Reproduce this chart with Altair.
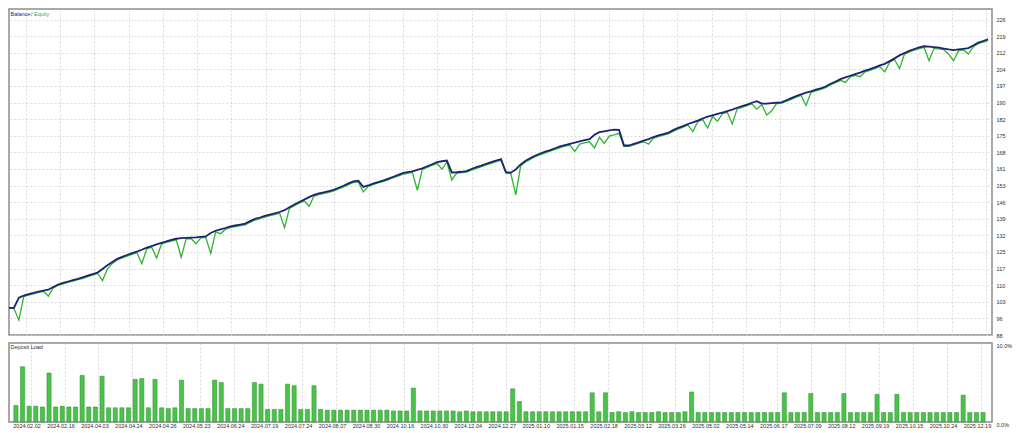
import altair as alt
import pandas as pd

# ---------------- data ----------------
balance = [
    99.9, 99.9, 104.3, 105.2, 105.9, 106.4, 107.0, 107.4, 107.8, 109.0,
    110.1, 110.8, 111.4, 112.0, 112.6, 113.2, 114.0, 114.6, 115.3, 116.9,
    118.5, 119.9, 121.3, 122.2, 123.0, 123.8, 124.5, 125.3, 126.2, 126.9,
    127.6, 128.3, 129.0, 129.6, 130.1, 130.4, 130.5, 130.6, 130.7, 130.9,
    131.1, 132.6, 133.6, 134.2, 134.8, 135.5, 135.9, 136.3, 136.7, 137.8,
    138.8, 139.4, 140.1, 140.7, 141.2, 141.8, 142.6, 143.9, 145.1, 146.2,
    147.2, 148.3, 149.3, 149.9, 150.4, 150.9, 151.5, 152.4, 153.3, 154.3,
    155.2, 155.5, 152.8, 153.4, 154.2, 154.9, 155.5, 156.3, 157.1, 157.9,
    158.8, 159.2, 159.6, 160.2, 160.9, 161.8, 162.7, 163.6, 164.0, 164.3,
    159.1, 159.2, 159.4, 159.7, 160.6, 161.4, 162.1, 162.9, 163.6, 164.3,
    164.9, 159.2, 159.0, 160.4, 162.6, 164.2, 165.4, 166.5, 167.4, 168.2,
    168.9, 169.7, 170.5, 171.1, 171.6, 172.1, 172.7, 173.2, 173.7, 175.6,
    176.7, 177.1, 177.5, 177.8, 177.7, 170.9, 170.9, 171.6, 172.3, 173.0,
    173.7, 174.6, 175.3, 175.9, 176.5, 177.6, 178.6, 179.4, 180.3, 181.0,
    181.8, 182.7, 183.5, 184.1, 184.7, 185.3, 185.9, 186.6, 187.4, 188.1,
    188.8, 189.6, 190.3, 189.2, 189.2, 189.4, 189.6, 189.8, 190.7, 191.6,
    192.5, 193.3, 194.0, 194.6, 195.3, 195.9, 196.7, 197.9, 198.9, 199.9,
    200.7, 201.4, 202.1, 202.8, 203.6, 204.3, 205.1, 205.9, 206.6, 207.8,
    209.0, 210.3, 211.3, 212.3, 213.1, 213.8, 214.3, 214.1, 213.9, 213.7,
    213.3, 212.9, 212.6, 212.9, 213.2, 213.5, 214.6, 215.9, 216.6, 217.3,
]

equity = [
    99.9, 99.7, 94.5, 104.8, 105.5, 106.0, 106.6, 107.1, 105.0, 108.6,
    109.7, 110.4, 111.0, 111.6, 112.2, 112.8, 113.5, 114.2, 114.9, 111.8,
    116.8, 119.3, 120.8, 121.7, 122.5, 123.3, 124.0, 119.2, 125.7, 126.4,
    121.7, 127.8, 128.5, 129.1, 129.6, 122.0, 130.1, 130.2, 127.9, 130.5,
    130.7, 123.7, 133.1, 132.3, 134.3, 135.0, 135.4, 135.8, 136.2, 137.3,
    138.3, 138.9, 139.6, 140.2, 140.7, 141.3, 134.9, 143.4, 144.6, 145.7,
    146.7, 144.3, 148.8, 149.4, 149.9, 150.4, 151.0, 151.9, 152.8, 153.8,
    154.7, 155.0, 150.6, 153.0, 153.8, 154.5, 155.1, 155.9, 156.7, 157.5,
    158.3, 158.7, 159.1, 151.3, 160.4, 161.3, 162.2, 163.1, 160.5, 163.8,
    155.8, 158.8, 159.0, 159.3, 160.1, 160.9, 161.6, 162.4, 163.1, 163.8,
    164.4, 158.8, 158.6, 149.3, 162.0, 163.7, 164.9, 166.0, 166.9, 167.7,
    168.4, 169.2, 170.0, 170.6, 171.1, 168.3, 171.5, 172.0, 172.5, 169.8,
    174.5, 171.8, 175.0, 175.5, 176.2, 170.5, 170.5, 171.2, 171.9, 172.6,
    171.5, 174.1, 174.8, 175.4, 176.0, 177.1, 178.1, 178.9, 179.8, 177.0,
    181.3, 182.2, 178.5, 183.6, 181.5, 184.8, 185.4, 180.3, 186.9, 187.6,
    188.3, 189.1, 186.8, 188.8, 184.2, 186.0, 189.2, 189.4, 190.2, 191.1,
    192.0, 192.8, 188.4, 194.1, 194.8, 195.4, 196.2, 197.4, 198.4, 199.4,
    198.5, 200.9, 201.6, 201.0, 203.1, 203.8, 204.6, 205.4, 203.1, 207.3,
    208.5, 204.5, 210.8, 211.8, 212.6, 213.3, 213.8, 208.0, 213.4, 213.2,
    212.8, 210.8, 208.0, 212.4, 212.7, 210.9, 214.1, 215.4, 216.1, 216.9,
]

deposit_load = (
    [2.1, 7.0, 2.0, 2.0, 1.9, 6.2, 1.9, 2.0, 1.9, 1.9,
     5.9, 1.9, 1.9, 5.8, 1.8, 1.8, 1.8, 1.8, 5.4, 5.5,
     1.8, 5.4, 1.8, 1.7, 1.8, 5.3, 1.7, 1.7, 1.7, 1.7,
     5.3, 5.0, 1.7, 1.7, 1.7, 1.7, 5.0, 4.8, 1.6, 1.6,
     1.6, 4.8, 4.6, 1.6, 1.6, 4.6, 1.6]
    + [1.5, 1.5, 1.5, 1.5, 1.5, 1.5, 1.5, 1.5, 1.5, 1.5, 1.4, 1.4, 1.4]
    + [4.3]
    + [1.4, 1.4, 1.4, 1.4, 1.4, 1.4, 1.3, 1.4, 1.3, 1.3, 1.3, 1.3, 1.3]
    + [1.3, 4.2, 2.6]
    + [1.3, 1.3, 1.3, 1.3, 1.3, 1.3, 1.3, 1.3, 1.3, 1.3]
    + [3.7, 1.3, 3.7]
    + [1.2, 1.3, 1.2, 1.3, 1.2, 1.2, 1.2, 1.3, 1.2, 1.2, 1.2, 1.3]
    + [3.8]
    + [1.2, 1.2, 1.2, 1.2, 1.2, 1.2, 1.2, 1.2, 1.2, 1.2, 1.2, 1.2, 1.2]
    + [3.7, 1.2, 1.2, 1.2, 3.6, 1.2, 1.2, 1.2, 1.2, 3.6]
    + [1.2, 1.2, 1.2, 1.2, 3.5, 1.2, 1.2, 3.5]
    + [1.2, 1.2, 1.2, 1.2, 1.2, 1.2, 1.2, 1.2, 1.2, 3.4, 1.2, 1.2, 1.2]
)

date_labels = [
    "2024.02.02", "2024.02.16", "2024.04.03", "2024.04.24", "2024.04.26",
    "2024.05.23", "2024.06.24", "2024.07.19", "2024.07.24", "2024.08.07",
    "2024.08.30", "2024.10.16", "2024.10.30", "2024.12.04", "2024.12.27",
    "2025.01.10", "2025.01.15", "2025.02.18", "2025.03.12", "2025.03.26",
    "2025.05.02", "2025.05.14", "2025.06.17", "2025.07.09", "2025.08.12",
    "2025.09.19", "2025.10.15", "2025.10.24", "2025.12.19",
]

y_labels = ["88", "96", "103", "110", "117", "125", "132", "139", "146", "153",
            "161", "168", "175", "182", "190", "197", "204", "212", "219", "226"]

# ---------------- tables ----------------
df_curve = pd.DataFrame({"i": list(range(len(balance))), "balance": balance, "equity": equity})
df_load = pd.DataFrame({"k": list(range(len(deposit_load))), "load": deposit_load})

# ---------------- layout ----------------
W = 983
H_TOP = 326
H_BOT = 79
FONT = "Liberation Sans"
FS = 5.5

X_TOP_DOM = [0, 199.8]
X_BOT_DOM = [-0.29, 146.6]
Y_TOP_DOM = [88, 230.6]

frac = [(17 + 34.85 * j) / 999 for j in range(len(date_labels))]
top_x_vals = [round(X_TOP_DOM[0] + f * (X_TOP_DOM[1] - X_TOP_DOM[0]), 4) for f in frac]
bot_x_vals = [round(X_BOT_DOM[0] + f * (X_BOT_DOM[1] - X_BOT_DOM[0]), 4) for f in frac]

y_step = (226 - 88) / (len(y_labels) - 1)
y_vals = [round(88 + j * y_step, 4) for j in range(len(y_labels))]

y_label_expr = f"{y_labels}[indexof({y_vals}, datum.value)]"
x_label_expr = f"{date_labels}[indexof({bot_x_vals}, datum.value)]"

x_top = alt.X(
    "i:Q",
    scale=alt.Scale(domain=X_TOP_DOM, nice=False, zero=False),
    axis=alt.Axis(values=top_x_vals, labels=False, ticks=False, domain=False,
                  grid=True, title=None),
)


def y_top(field):
    return alt.Y(
        f"{field}:Q",
        scale=alt.Scale(domain=Y_TOP_DOM, nice=False, zero=False),
        axis=alt.Axis(orient="right", values=y_vals, labelExpr=y_label_expr,
                      grid=True, ticks=False, domain=False, title=None,
                      labelFontSize=FS, labelPadding=4, labelOverlap=False),
    )


base = alt.Chart(df_curve)
eq_line = base.mark_line(color="#2fb52f", strokeWidth=1.3, clip=True).encode(
    x=x_top, y=y_top("equity"))
bal_line = base.mark_line(color="#1b2470", strokeWidth=1.8, clip=True).encode(
    x=x_top, y=y_top("balance"))


def label(text, x, y, color):
    return alt.Chart(pd.DataFrame({"t": [text]})).mark_text(
        align="left", baseline="middle", font=FONT, fontSize=FS, color=color
    ).encode(x=alt.value(x), y=alt.value(y), text="t:N")


top = alt.layer(
    eq_line, bal_line,
    label("Balance", 1.5, 5, "#1a1a8c"),
    label("/", 22, 5, "#404060"),
    label("Equity", 25, 5, "#2fb52f"),
).properties(width=W, height=H_TOP)

bars = alt.Chart(df_load).mark_bar(
    size=4.2, color="#4bc34b", stroke="#2e8b2e", strokeWidth=0.5
).encode(
    x=alt.X(
        "k:Q",
        scale=alt.Scale(domain=X_BOT_DOM, nice=False, zero=False),
        axis=alt.Axis(values=bot_x_vals, labelExpr=x_label_expr, grid=True,
                      ticks=False, domain=False, title=None, labelFontSize=FS,
                      labelPadding=1, labelOffset=-4, labelAngle=0,
                      labelOverlap=False, labelFlush=False),
    ),
    y=alt.Y(
        "load:Q",
        scale=alt.Scale(domain=[0, 10], nice=False, zero=True),
        axis=alt.Axis(orient="right", values=[0, 10],
                      labelExpr="datum.value == 10 ? '10.0%' : '0.0%'",
                      grid=False, ticks=False, domain=False, title=None,
                      labelFontSize=FS, labelPadding=4, labelBaseline="top"),
    ),
)

bottom = alt.layer(
    bars,
    label("Deposit Load", 1.5, 3.5, "#303030"),
).properties(width=W, height=H_BOT)

chart = alt.vconcat(top, bottom, spacing=2).properties(
    padding={"left": 0, "top": 0, "right": 2, "bottom": 0},
    background="white",
).configure_view(
    stroke="#8c8c8c", strokeWidth=1.5
).configure_axis(
    labelFont=FONT, labelColor="#303030", gridColor="#d2d2d2",
    gridDash=[2, 2], gridWidth=0.8,
)

chart.save("out.html", embed_options={"renderer": "svg", "actions": False})
